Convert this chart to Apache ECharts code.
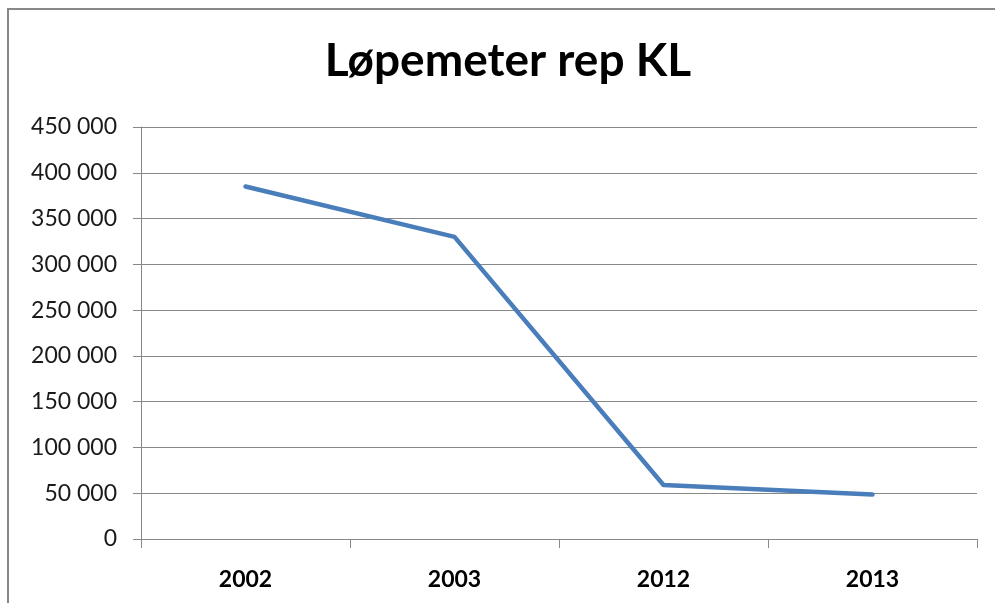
<!DOCTYPE html>
<html>
<head>
<meta charset="utf-8">
<script src="https://cdn.jsdelivr.net/npm/echarts@6/dist/echarts.min.js"></script>
<style>
html,body{margin:0;padding:0;background:#fff;}
#chart{width:995px;height:603px;}
</style>
</head>
<body>
<div id="chart"></div>
<script>
const titleText = 'Løpemeter rep KL';
const categories = ['2002', '2003', '2012', '2013'];
const values = [385000, 330000, 59000, 48500];
const yMin = 0, yMax = 450000, yStep = 50000;

function fmt(v) {
  return String(v).replace(/\B(?=(\d{3})+(?!\d))/g, ' ');
}

const chart = echarts.init(document.getElementById('chart'), null, {renderer: 'canvas'});
chart.setOption({
  animation: false,
  backgroundColor: '#ffffff',
  title: {
    text: titleText,
    left: 503,
    top: 33,
    textAlign: 'center',
    textStyle: {fontFamily: 'Lato', fontWeight: 'bold', fontSize: 46, color: '#000'}
  },
  graphic: [{
    type: 'rect',
    shape: {x: 8, y: 9, width: 1100, height: 700},
    style: {fill: 'none', stroke: '#888888', lineWidth: 2},
    silent: true
  }],
  grid: {left: 141, right: 18, top: 127, bottom: 64, containLabel: false},
  xAxis: {
    type: 'category',
    data: categories,
    boundaryGap: true,
    axisLine: {show: true, lineStyle: {color: '#888888', width: 1}},
    axisTick: {show: true, length: 9, alignWithLabel: false, lineStyle: {color: '#888888'}},
    axisLabel: {margin: 29, fontFamily: 'Lato', fontWeight: 'bold', fontSize: 23, color: '#000'},
    splitLine: {show: false}
  },
  yAxis: {
    type: 'value',
    min: yMin, max: yMax, interval: yStep,
    axisLine: {show: true, lineStyle: {color: '#888888', width: 1}},
    axisTick: {show: true, length: 8, lineStyle: {color: '#888888'}},
    axisLabel: {margin: 24, fontFamily: 'Lato', fontSize: 23, color: '#1a1a1a', formatter: fmt},
    splitLine: {show: true, lineStyle: {color: '#888888', width: 1}}
  },
  series: [{
    type: 'line',
    data: values,
    showSymbol: false,
    symbol: 'none',
    lineStyle: {color: '#4a7ebb', width: 4.5, cap: 'round', join: 'round'},
    itemStyle: {color: '#4a7ebb'}
  }]
});
</script>
</body>
</html>
